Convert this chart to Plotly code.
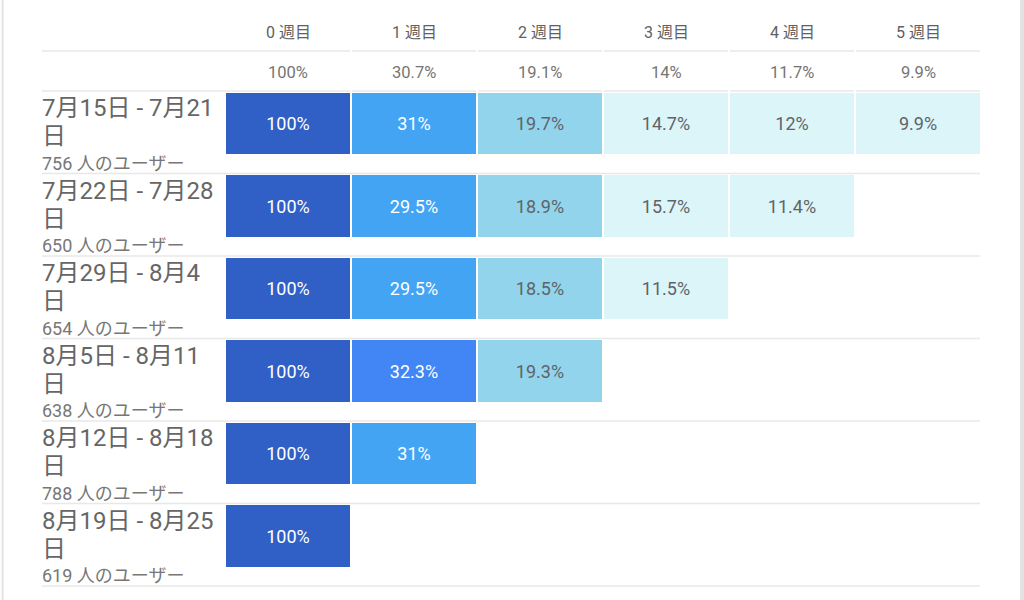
import plotly.graph_objects as go

# ---------------- data ----------------
weeks = ["0 週目", "1 週目", "2 週目", "3 週目", "4 週目", "5 週目"]
averages = ["100%", "30.7%", "19.1%", "14%", "11.7%", "9.9%"]
cohort_labels = ["7月15日 - 7月21日", "7月22日 - 7月28日", "7月29日 - 8月4日",
                 "8月5日 - 8月11日", "8月12日 - 8月18日", "8月19日 - 8月25日"]
users = [756, 650, 654, 638, 788, 619]
retention = [
    [100, 31, 19.7, 14.7, 12, 9.9],
    [100, 29.5, 18.9, 15.7, 11.4],
    [100, 29.5, 18.5, 11.5],
    [100, 32.3, 19.3],
    [100, 31],
    [100],
]

FONT = "Roboto, 'Noto Sans CJK JP', sans-serif"


def cell_color(v):
    if v >= 99:
        return "#305FC6"
    if v >= 32:
        return "#4285F4"
    if v >= 25:
        return "#44A4F4"
    if v >= 17:
        return "#92D4EC"
    return "#DBF5F8"


def text_color(v):
    return "#FFFFFF" if v >= 25 else "#5F6368"


def fmt(v):
    return f"{v:g}%"


xs, bases, hs, cols, txts, tcols = [], [], [], [], [], []
for i, row in enumerate(retention):
    for j, v in enumerate(row):
        xs.append(j)
        bases.append(i + 0.024)
        hs.append(0.745)
        cols.append(cell_color(v))
        txts.append(fmt(v))
        tcols.append(text_color(v))

fig = go.Figure()
fig.add_trace(go.Bar(
    x=xs, y=hs, base=bases, width=0.984,
    marker=dict(color=cols, line=dict(width=0)),
    text=txts, textposition="inside", insidetextanchor="middle", textangle=0,
    textfont=dict(family=FONT, size=18, color=tcols),
    hoverinfo="skip", showlegend=False,
))

X_LEFT = (42 - 288) / 126
X_TEXT = (40 - 288) / 126
X_RIGHT = (980 - 288) / 126
Y_HEAD = (32 - 91) / 82.5
Y_HEAD_LINE = (51 - 91) / 82.5
Y_AVG = (72 - 91) / 82.5
Y_L1 = (108 - 91) / 82.5
Y_L2 = (136 - 91) / 82.5
Y_L3 = (163 - 91) / 82.5

annotations = []
for j, w in enumerate(weeks):
    annotations.append(dict(x=j, y=Y_HEAD, text=w, showarrow=False, xref="x", yref="y",
                            font=dict(family=FONT, size=16, color="#616161")))
    annotations.append(dict(x=j, y=Y_AVG, text=averages[j], showarrow=False, xref="x", yref="y",
                            font=dict(family=FONT, size=16.5, color="#757575")))

for i, lab in enumerate(cohort_labels):
    annotations.append(dict(x=X_TEXT, y=i + Y_L1, text=lab[:-1], showarrow=False, xref="x", yref="y",
                            xanchor="left", yanchor="middle",
                            font=dict(family=FONT, size=24, color="#666666")))
    annotations.append(dict(x=X_TEXT, y=i + Y_L2, text=lab[-1], showarrow=False, xref="x", yref="y",
                            xanchor="left", yanchor="middle",
                            font=dict(family=FONT, size=24, color="#666666")))
    annotations.append(dict(x=X_TEXT, y=i + Y_L3, text=f"{users[i]} 人のユーザー", showarrow=False,
                            xref="x", yref="y", xanchor="left", yanchor="middle",
                            font=dict(family=FONT, size=18, color="#777777")))

shapes = []
LINE = dict(color="#E8E8E8", width=1.5)
for yy in (Y_HEAD_LINE, 0):
    shapes.append(dict(type="line", xref="x", yref="y", x0=X_LEFT, x1=0.492, y0=yy, y1=yy, line=LINE))
    for j in range(1, 6):
        shapes.append(dict(type="line", xref="x", yref="y", x0=j - 0.492, x1=j + 0.492,
                           y0=yy, y1=yy, line=LINE))
for i in range(1, len(retention) + 1):
    shapes.append(dict(type="line", xref="x", yref="y", x0=X_LEFT, x1=X_RIGHT, y0=i, y1=i, line=LINE))
shapes.append(dict(type="line", xref="paper", yref="paper", x0=0.0025, x1=0.0025, y0=0, y1=1,
                   line=dict(color="#E3E3E3", width=2)))
shapes.append(dict(type="rect", xref="paper", yref="paper", x0=1020 / 1024, x1=1, y0=0, y1=1,
                   fillcolor="#E2E2E2", line=dict(width=0)))

fig.update_layout(
    width=1024, height=600,
    margin=dict(l=0, r=0, t=0, b=0),
    paper_bgcolor="white", plot_bgcolor="white",
    xaxis=dict(range=[-288 / 126, (1024 - 288) / 126], visible=False, fixedrange=True),
    yaxis=dict(range=[(600 - 91) / 82.5, -91 / 82.5], visible=False, fixedrange=True),
    annotations=annotations, shapes=shapes,
    bargap=0, showlegend=False,
    font=dict(family=FONT),
)

fig.write_html("out.html", config={"displayModeBar": False},
               post_script="document.body.style.margin='0';document.body.style.overflow='hidden';")
